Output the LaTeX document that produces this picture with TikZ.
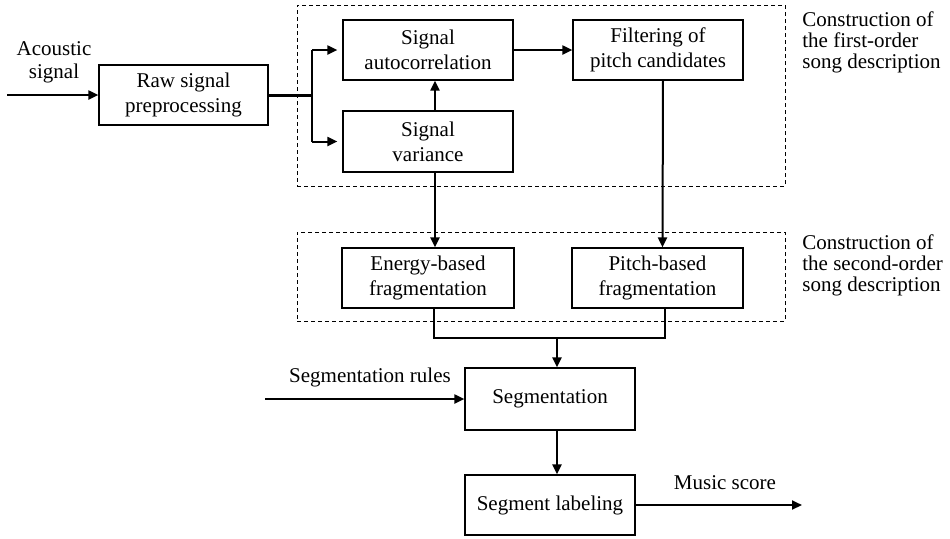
\documentclass[tikz,border=0pt]{standalone}
\usepackage{fontspec}
\setmainfont{Liberation Serif}
\usetikzlibrary{arrows.meta}
\begin{document}
\begin{tikzpicture}[x=0.5pt,y=-0.5pt,
  font=\fontsize{10.5pt}{12.5pt}\selectfont,
  box/.style={draw, line width=0.6pt, align=center, inner sep=0pt, minimum width=85pt, minimum height=30pt},
  dashbox/.style={draw, dashed, dash pattern=on 2pt off 1.5pt, line width=0.5pt, inner sep=0pt, minimum width=244pt},
  arr/.style={line width=1pt, -{Triangle[length=5pt,width=4.5pt]}},
  ln/.style={line width=1pt},
  lbl/.style={align=left, anchor=west, inner sep=0pt, font=\fontsize{10.5pt}{10.5pt}\selectfont}]
\useasboundingbox (0,0) rectangle (950,538);
% groups
\node[dashbox, minimum height=90.5pt] (g1) at (541,95.5) {};
\node[dashbox, minimum height=44.5pt] (g2) at (541,276.5) {};
\node[lbl] (t1) at (802,42) {Construction of\\the first-order\\song description};
\node[lbl] (t2) at (802,265) {Construction of\\the second-order\\song description};
% boxes
\node[box, minimum width=84.5pt] (raw) at (183.5,95) {Raw signal\\preprocessing};
\node[box] (auto) at (428,50) {Signal\\autocorrelation};
\node[box, minimum height=30.5pt] (var) at (428,141.5) {Signal\\variance};
\node[box] (filt) at (658,50) {Filtering of\\pitch candidates};
\node[box, minimum width=86pt] (en) at (428,278) {Energy-based\\fragmentation};
\node[box, minimum width=85.5pt] (pi) at (657.5,278) {Pitch-based\\fragmentation};
\node[box, minimum height=31pt] (seg) at (550,399) {Segmentation};
\node[box] (lab) at (550,505) {Segment labeling};
% labels
\node[align=center, inner sep=0pt, font=\fontsize{10.5pt}{11.5pt}\selectfont] (ac) at (54,62) {Acoustic\\signal};
\node[inner sep=0pt] (rules) at (370,377) {Segmentation rules};
\node[inner sep=0pt] (ms) at (725,483) {Music score};
% coordinates
\coordinate (ain) at (7,95);
\coordinate (br) at (312,95);
\coordinate (rin) at (265,399);
\coordinate (mout) at (802,505);
\coordinate (join) at (557,338);
% connectors
\draw[arr] (ain) -- (raw.west);
\draw[line width=1.5pt] (raw.east) -- (br);
\draw[ln] (br |- auto.west) -- (br |- var.west);
\draw[arr] (br |- auto.west) -- ([xshift=-2.5pt]auto.west);
\draw[arr] (br |- var.west) -- ([xshift=-2.5pt]var.west);
\draw[arr] ([xshift=3.5pt]var.north) -- ([xshift=3.5pt]auto.south);
\draw[arr] (auto.east) -- (filt.west);
\draw[arr] ([xshift=2.5pt]filt.south) -- ([xshift=2.5pt]pi.north);
\draw[arr] ([xshift=3.5pt]var.south) -- ([xshift=3.5pt]en.north);
\draw[ln] ([xshift=3pt]en.south) |- (join) -| ([xshift=3.5pt]pi.south);
\draw[arr] (join) -- ([xshift=3.5pt]seg.north);
\draw[arr] ([xshift=3.5pt]seg.south) -- ([xshift=3.5pt]lab.north);
\draw[arr] (rin) -- (seg.west);
\draw[arr] (lab.east) -- (mout);
\end{tikzpicture}
\end{document}
